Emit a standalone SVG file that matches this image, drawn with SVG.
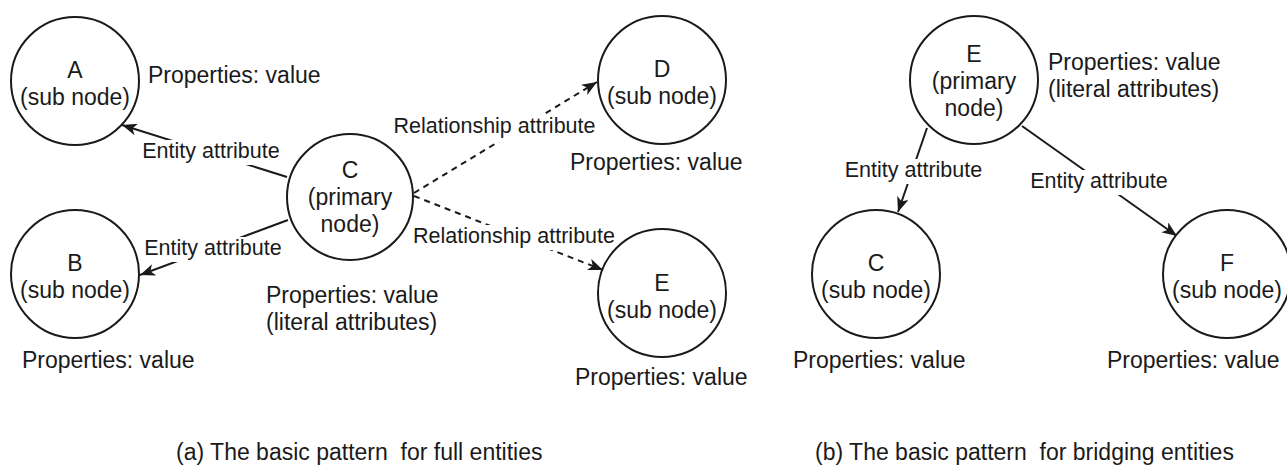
<svg xmlns="http://www.w3.org/2000/svg" width="1287" height="469" viewBox="0 0 1287 469">
  <defs>
    <style>
      text { font-family: "Liberation Sans", Arial, Helvetica, sans-serif; fill: #1a1a1a; }
      .node circle { fill: #ffffff; stroke: #1a1a1a; stroke-width: 2; }
      .node text { font-size: 23px; text-anchor: middle; }
      .prop { font-size: 23px; }
      .edge { fill: none; stroke: #1a1a1a; stroke-width: 2; marker-end: url(#arrow); }
      .dashed { stroke-dasharray: 6 5; }
      .lbl-bg { fill: #ffffff; }
      .lbl { font-size: 21.5px; text-anchor: middle; }
      .caption { font-size: 23px; white-space: pre; }
    </style>
    <marker id="arrow" markerUnits="userSpaceOnUse" markerWidth="16" markerHeight="12" refX="15" refY="6" orient="auto">
      <path d="M0,0 L15,6 L0,12 L4,6 Z" fill="#1a1a1a"/>
    </marker>
  </defs>

  <rect width="1287" height="469" fill="#ffffff"/>

  <!-- connectors with their labels -->
  <g id="connectors">
    <g id="edge-C-A">
      <path class="edge" d="M287,177 L122,125"/>
      <rect class="lbl-bg" x="141" y="140" width="140" height="25"/>
      <text class="lbl" x="211" y="158">Entity attribute</text>
    </g>
    <g id="edge-C-B">
      <path class="edge" d="M288,220 L140,275"/>
      <rect class="lbl-bg" x="144" y="237" width="140" height="25"/>
      <text class="lbl" x="213" y="255">Entity attribute</text>
    </g>
    <g id="edge-C-D">
      <path class="edge dashed" d="M414,193 L597,82"/>
      <rect class="lbl-bg" x="392" y="115" width="205" height="27"/>
      <text class="lbl" x="494.5" y="133">Relationship attribute</text>
    </g>
    <g id="edge-C-E">
      <path class="edge dashed" d="M414,196 L603,270"/>
      <rect class="lbl-bg" x="411" y="225" width="206" height="25"/>
      <text class="lbl" x="514" y="243">Relationship attribute</text>
    </g>
    <g id="edge-E-C2">
      <path class="edge" d="M927,128 L898,212"/>
      <rect class="lbl-bg" x="843" y="159" width="141" height="25"/>
      <text class="lbl" x="913.5" y="177">Entity attribute</text>
    </g>
    <g id="edge-E-F">
      <path class="edge" d="M1022,126 L1177,236"/>
      <rect class="lbl-bg" x="1029" y="170" width="140" height="25"/>
      <text class="lbl" x="1099" y="188">Entity attribute</text>
    </g>
  </g>

  <!-- (a) full entities -->
  <g id="node-A" class="node">
    <circle cx="75" cy="81" r="64"/>
    <text x="75" y="78">A</text>
    <text x="75" y="105">(sub node)</text>
  </g>
  <text class="prop" x="148" y="83">Properties: value</text>

  <g id="node-B" class="node">
    <circle cx="75" cy="274" r="64"/>
    <text x="75" y="271">B</text>
    <text x="75" y="298">(sub node)</text>
  </g>
  <text class="prop" x="22" y="368">Properties: value</text>

  <g id="node-C" class="node">
    <circle cx="350" cy="197" r="63"/>
    <text x="350" y="178">C</text>
    <text x="350" y="205">(primary</text>
    <text x="350" y="232">node)</text>
  </g>
  <text class="prop" x="266" y="303">Properties: value</text>
  <text class="prop" x="266" y="330">(literal attributes)</text>

  <g id="node-D" class="node">
    <circle cx="662" cy="80" r="64"/>
    <text x="662" y="77">D</text>
    <text x="662" y="104">(sub node)</text>
  </g>
  <text class="prop" x="570" y="170">Properties: value</text>

  <g id="node-E" class="node">
    <circle cx="662" cy="293" r="64"/>
    <text x="662" y="291">E</text>
    <text x="662" y="318">(sub node)</text>
  </g>
  <text class="prop" x="575" y="385">Properties: value</text>

  <!-- (b) bridging entities -->
  <g id="node-E2" class="node">
    <circle cx="974" cy="80" r="64"/>
    <text x="974" y="62">E</text>
    <text x="974" y="89">(primary</text>
    <text x="974" y="116">node)</text>
  </g>
  <text class="prop" x="1048" y="70">Properties: value</text>
  <text class="prop" x="1048" y="97">(literal attributes)</text>

  <g id="node-C2" class="node">
    <circle cx="876" cy="274" r="64"/>
    <text x="876" y="271">C</text>
    <text x="876" y="298">(sub node)</text>
  </g>
  <text class="prop" x="793" y="368">Properties: value</text>

  <g id="node-F" class="node">
    <circle cx="1227" cy="274" r="64"/>
    <text x="1227" y="271">F</text>
    <text x="1227" y="298">(sub node)</text>
  </g>
  <text class="prop" x="1107" y="368">Properties: value</text>

  <!-- captions -->
  <text class="caption" x="176" y="460">(a) The basic pattern  for full entities</text>
  <text class="caption" x="815" y="460">(b) The basic pattern  for bridging entities</text>
</svg>
